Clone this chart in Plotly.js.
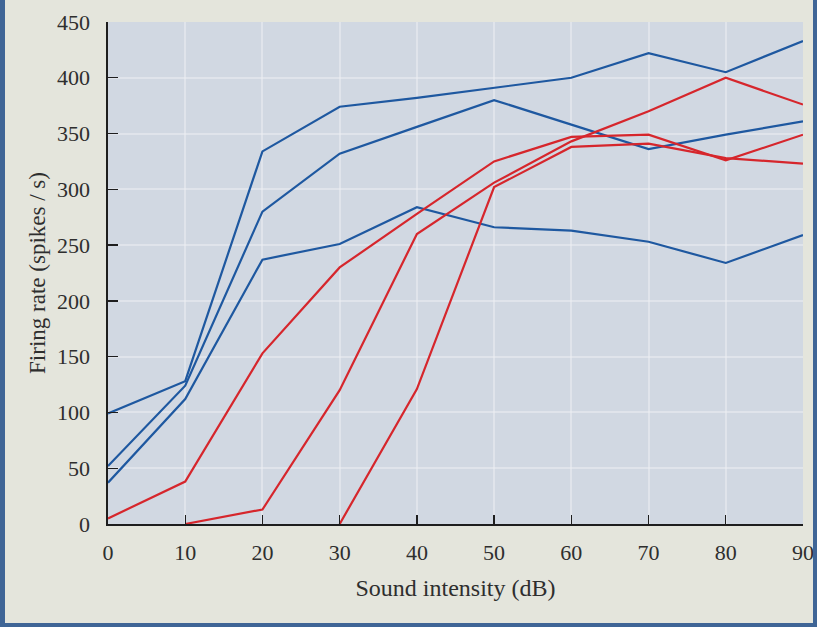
<!DOCTYPE html>
<html>
<head>
<meta charset="utf-8">
<script src="https://cdn.plot.ly/plotly-3.0.1.min.js"></script>
<style>
  html, body { margin: 0; padding: 0; background: #e4e5dc; }
  #wrap { position: relative; width: 817px; height: 627px; overflow: hidden; }
  #chart { position: absolute; left: 0; top: 0; width: 817px; height: 627px; }
  .edge { position: absolute; background: #3f6596; }
</style>
</head>
<body>
<div id="wrap">
  <div id="chart"></div>
  <div class="edge" style="left:0;top:0;width:5px;height:627px;"></div>
  <div class="edge" style="left:0;top:623px;width:817px;height:4px;"></div>
  <div class="edge" style="left:813px;top:0;width:4px;height:627px;"></div>
</div>
<script>
// Sound intensity levels (dB)
const intensity = [0, 10, 20, 30, 40, 50, 60, 70, 80, 90];
const xTicks = [0, 10, 20, 30, 40, 50, 60, 70, 80, 90];
const yTicks = [0, 50, 100, 150, 200, 250, 300, 350, 400, 450];

// Blue fibres (low threshold, saturating)
const blueA = [99, 128, 334, 374, 382, 391, 400, 422, 405, 433];
const blueB = [52, 124, 280, 332, 356, 380, 358, 336, 349, 361];
const blueC = [37, 112, 237, 251, 284, 266, 263, 253, 234, 259];

// Red fibres (higher thresholds)
const redD = [5, 38, 153, 230, 278, 325, 347, 349, 326, 349];
const redE = [null, 0, 13, 120, 260, 306, 343, 370, 400, 376];
const redF = [null, null, null, 0, 121, 302, 338, 341, 328, 323];

const blue = 'rgb(30,88,160)';
const red = 'rgb(214,38,44)';

function tr(y, color) {
  return { x: intensity, y: y, type: 'scatter', mode: 'lines',
           line: { color: color, width: 2.2 }, connectgaps: false,
           showlegend: false, hoverinfo: 'x+y', cliponaxis: false };
}

const data = [
  tr(blueA, blue), tr(blueB, blue), tr(blueC, blue),
  tr(redD, red), tr(redE, red), tr(redF, red)
];

const tickFont = { family: 'Liberation Serif, Times New Roman, serif', size: 22, color: '#2e2e2e' };

const layout = {
  width: 817, height: 627,
  margin: { l: 108, r: 14, t: 22, b: 103 },
  paper_bgcolor: 'rgba(0,0,0,0)',
  plot_bgcolor: 'rgb(209,216,226)',
  showlegend: false,
  xaxis: {
    range: [0, 90], tickvals: xTicks, ticktext: xTicks.map(String),
    showline: true, linecolor: '#1e1e1e', linewidth: 1.6,
    ticks: 'inside', ticklen: 9, tickwidth: 1.4, tickcolor: '#1e1e1e',
    showgrid: true, gridcolor: 'rgba(236,239,243,0.55)', gridwidth: 2,
    zeroline: false, tickfont: tickFont, ticklabelstandoff: 8,
    title: { text: 'Sound intensity (dB)',
             font: { family: 'Liberation Serif, Times New Roman, serif', size: 24, color: '#2e2e2e' },
             standoff: 15 }
  },
  yaxis: {
    range: [0, 450], tickvals: yTicks, ticktext: yTicks.map(String),
    showline: true, linecolor: '#1e1e1e', linewidth: 1.6,
    ticks: 'inside', ticklen: 10, tickwidth: 1.4, tickcolor: '#1e1e1e',
    showgrid: true, gridcolor: 'rgba(236,239,243,0.55)', gridwidth: 2,
    zeroline: false, tickfont: tickFont, ticklabelstandoff: 12,
    title: { text: 'Firing rate (spikes / s)',
             font: { family: 'Liberation Serif, Times New Roman, serif', size: 23, color: '#2e2e2e' },
             standoff: 5 }
  }
};

Plotly.newPlot('chart', data, layout, { staticPlot: true, displayModeBar: false });
</script>
</body>
</html>
